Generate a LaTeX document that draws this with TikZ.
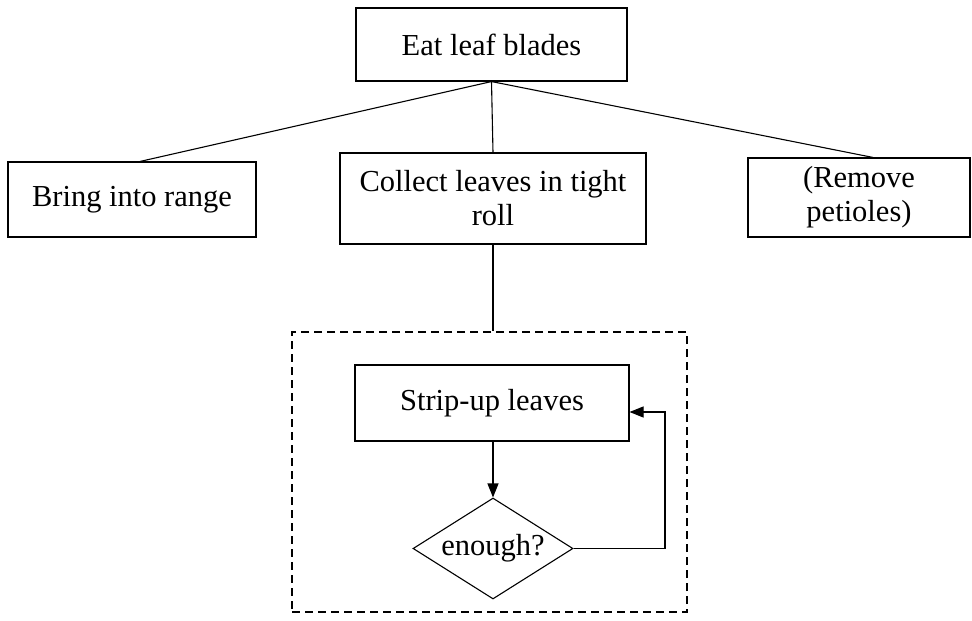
\documentclass[tikz,border=0pt]{standalone}
\usepackage{fontspec}
\setmainfont{Liberation Serif}
\usetikzlibrary{shapes.geometric,arrows.meta}
\begin{document}
\begin{tikzpicture}[x=1pt,y=1pt,line width=1.1pt,font=\fontsize{30.5}{34}\selectfont,boxS/.style={shape=rectangle,draw=black,inner sep=0pt,align=center},decS/.style={shape=diamond,draw=black,inner sep=0pt,aspect=1.9,minimum width=160pt,minimum height=101pt},frameS/.style={shape=rectangle,draw=black,line width=2pt,dash pattern=on 8pt off 5pt,minimum width=395pt,minimum height=280pt},arrS/.style={-{Triangle[length=14pt,width=11pt]}}]
\useasboundingbox (0,0) rectangle (972,-621);
\node[boxS,minimum width=271pt,minimum height=73pt] (eat) at (491.5,-44.5) {Eat leaf blades};

\node[boxS,minimum width=248pt,minimum height=75pt] (bring) at (132,-199.5) {Bring into range};
\node[boxS,minimum width=306pt,minimum height=91pt] (collect) at (493,-198.5) {Collect leaves in tight\\roll};
\node[boxS,minimum width=222pt,minimum height=79pt] (remove) at (859,-197.5) {(Remove\\petioles)};

\node[frameS] (frame) at (489.5,-472) {};
\node[boxS,minimum width=274pt,minimum height=76pt] (strip) at (492,-403) {Strip-up leaves};
\node[decS] (enough) at (493,-548.5) {enough?};
\coordinate (loop) at (665,-412);

\draw (eat.south) -- ([xshift=8pt]bring.north);
\draw (eat.south) -- (collect.north);
\draw (eat.south) -- ([xshift=14pt]remove.north);
\draw (collect.south) -- (collect.south |- frame.north);
\draw[arrS] (strip.south -| enough.north) -- (enough.north);
\draw[arrS] (enough.east) -| (loop) -- (strip.east |- loop);
\end{tikzpicture}
\end{document}
